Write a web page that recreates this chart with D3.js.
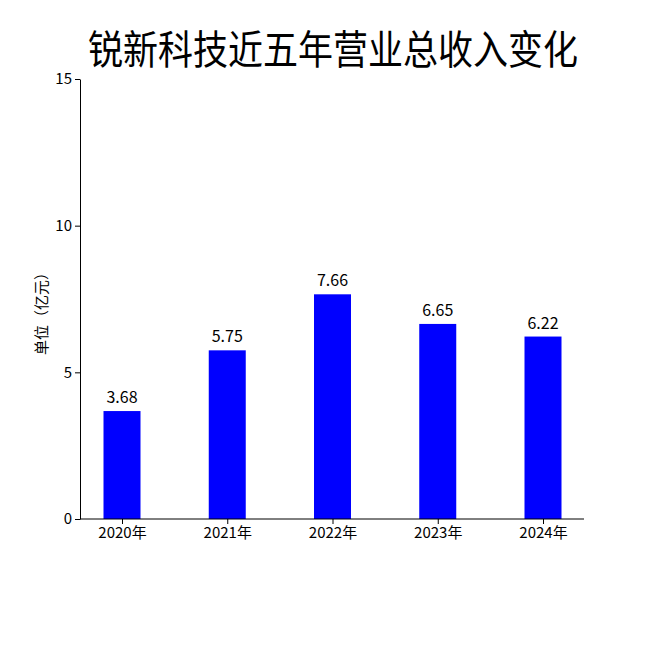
<!DOCTYPE html>
<html><head><meta charset="utf-8">
<script src="https://cdn.jsdelivr.net/npm/d3@7"></script>
<style>body{margin:0;background:#fff}text{font-family:"Liberation Sans Narrow","Noto Sans CJK SC",sans-serif}</style>
</head><body><svg id="c" width="650" height="650"></svg>
<script>
const categories=["2020年","2021年","2022年","2023年","2024年"];
const values=[3.68,5.75,7.66,6.65,6.22];
const yTicks=[0,5,10,15];
const svg=d3.select("#c");
const y=d3.scaleLinear().domain([0,15]).range([519,79]);
const x=d3.scalePoint().domain(categories).range([122,543]);
const bw=37;
svg.append("text").attr("x",333).attr("y",64).attr("text-anchor","middle")
 .attr("textLength",490).attr("lengthAdjust","spacingAndGlyphs")
 .style("font-family","'Noto Sans CJK SC'").style("font-size","40px").text("锐新科技近五年营业总收入变化");
svg.selectAll("rect").data(values).join("rect")
 .attr("x",(d,i)=>x(categories[i])-bw/2).attr("width",bw)
 .attr("y",d=>y(d)).attr("height",d=>y(0)-y(d)).attr("fill","#0000ff");
svg.selectAll(".lab").data(values).join("text").attr("class","lab")
 .attr("x",(d,i)=>x(categories[i])).attr("y",d=>y(d)-8).attr("text-anchor","middle")
 .style("font-size","16px").text(d=>d.toFixed(2));
const ya=svg.append("g").attr("transform","translate(80,0)").call(d3.axisLeft(y).tickValues(yTicks).tickSize(5).tickSizeOuter(0));
ya.select(".domain").attr("stroke","#000");
ya.selectAll("text").style("font-size","15px").attr("fill","#000");
const xa=svg.append("g").attr("transform","translate(0,519)").call(d3.axisBottom(x).tickSize(5).tickSizeOuter(0));
xa.select(".domain").attr("d","M80,0H584");
xa.selectAll("text").style("font-size","15px").attr("fill","#000");
svg.append("text").attr("transform","translate(47,310) rotate(-90)").attr("text-anchor","middle")
 .style("font-size","15px").style("font-family","'Noto Sans CJK SC'").text("单位（亿元）");
</script></body></html>
